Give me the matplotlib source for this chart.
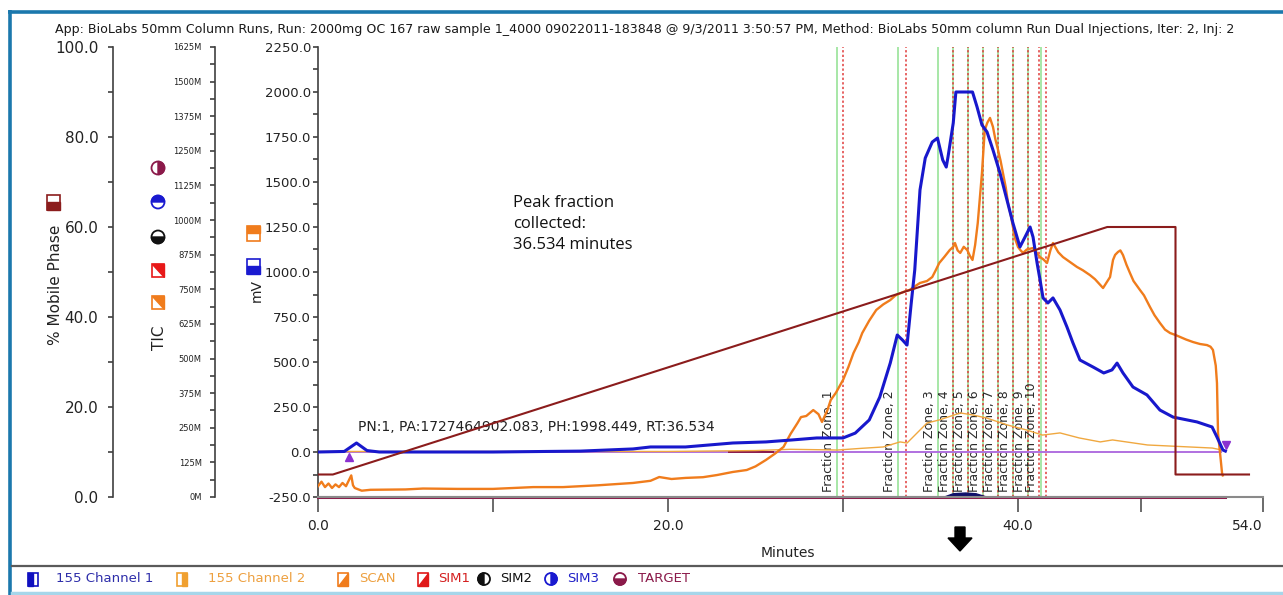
import numpy as np
import matplotlib.pyplot as plt
from matplotlib.patches import Rectangle, Polygon, Circle, Wedge
from matplotlib.ticker import MultipleLocator, FixedLocator, FuncFormatter

W, H = 1283, 595

# ---- data (minutes, mV) ----
ch1_t = [0, 1.5, 2.2, 2.8, 3.5, 10, 15, 18, 19, 21, 23.7, 25.6, 27.1, 28.5, 30.0, 30.7, 31.5,
         32.1, 32.7, 33.1, 33.4, 33.66, 33.9, 34.1, 34.4, 34.7, 35.1, 35.4, 35.7, 35.9, 36.0,
         36.3, 36.45, 37.4, 37.66, 37.94, 38.23, 38.57, 38.97, 39.37, 39.71, 40.11, 40.4,
         40.69, 40.86, 41.09, 41.26, 41.43, 41.71, 42.0, 42.4, 42.8, 43.14, 43.54, 44.29,
         44.9, 45.37, 45.66, 46.0, 46.57, 47.37, 48.11, 48.86, 50.23, 51.09, 51.37, 51.71, 51.85]
ch1_mv = [0, 3, 50, 8, 0, 0, 5, 17, 28, 28, 50, 56, 67, 78, 78, 105, 178,
          305, 494, 650, 622, 594, 828, 1011, 1456, 1633, 1722, 1744, 1622, 1583, 1639,
          1828, 2000, 2000, 1917, 1817, 1778, 1678, 1550, 1400, 1272, 1139, 1194,
          1250, 1194, 1050, 956, 856, 828, 856, 789, 694, 606, 511, 472,
          439, 456, 494, 439, 361, 317, 233, 194, 167, 139, 83, 11, 5]

ch2_t = [0, 0.2, 0.4, 0.6, 0.8, 1.0, 1.2, 1.4, 1.6, 1.8, 1.9, 2.0, 2.1, 2.5, 3.0, 5, 6, 8, 10,
         12.3, 14, 16, 18, 19.0, 19.5, 20.2, 21, 22, 22.8, 23.7, 24.5, 25.0, 25.6, 26.1, 26.6,
         27.0, 27.4, 27.6, 27.9, 28.3, 28.6, 28.8, 29.1, 29.3, 29.6, 30.0, 30.3, 30.6, 30.9,
         31.1, 31.5, 31.9, 32.3, 32.7, 33.0, 33.3, 33.6, 33.8, 34.1, 34.4, 34.8, 35.1, 35.3,
         35.5, 35.8, 36.1, 36.3, 36.4, 36.55, 36.7, 36.9, 37.1, 37.25, 37.4, 37.55, 37.7,
         37.94, 38.1, 38.25, 38.4, 38.57, 38.7, 38.86, 39.0, 39.14, 39.3, 39.43, 39.6, 39.71,
         39.85, 40.0, 40.15, 40.29, 40.5, 40.86, 41.05, 41.26, 41.45, 41.66, 41.85, 42.0,
         42.3, 42.57, 42.9, 43.37, 43.7, 44.11, 44.4, 44.86, 45.05, 45.26, 45.43, 45.55,
         45.71, 45.85, 46.0, 46.2, 46.4, 46.6, 46.97, 47.2, 47.54, 47.8, 48.11, 48.4, 48.69,
         49.0, 49.26, 49.6, 50.0, 50.4, 50.8, 51.0, 51.14, 51.3, 51.37, 51.43, 51.66, 51.7]
ch2_mv = [-190, -165, -195, -175, -200, -180, -195, -172, -190, -150, -130, -185, -200, -215,
          -210, -208, -203, -205, -205, -195, -195, -185, -172, -160, -139, -150, -144, -140,
          -128, -111, -100, -80, -44, -10, 28, 100, 161, 194, 200, 233, 210, 167, 230, 289,
          330, 400, 470, 550, 610, 661, 730, 789, 820, 844, 870, 883, 895, 900, 920, 939, 950,
          972, 1010, 1050, 1085, 1122, 1140, 1161, 1120, 1106, 1140, 1122, 1090, 1067, 1150,
          1272, 1550, 1789, 1830, 1856, 1806, 1740, 1678, 1620, 1550, 1470, 1383, 1310, 1250,
          1180, 1139, 1120, 1106, 1125, 1133, 1110, 1083, 1070, 1050, 1120, 1161, 1110, 1083,
          1060, 1028, 1010, 983, 960, 911, 940, 972, 1067, 1095, 1111, 1120, 1094, 1040, 994,
          950, 900, 870, 806, 760, 717, 680, 661, 650, 639, 625, 611, 600, 594, 585, 567, 480,
          383, 106, -117, -130]

scan_t = [0, 20, 25, 27, 29.7, 31, 32.3, 33.26, 33.66, 34.8, 35.5, 36.7, 37.4, 38.2, 39.4,
          40.5, 41.4, 42.4, 43.5, 44.7, 45.4, 47.4, 51.1, 51.7]
scan_mv = [3, 3, 8, 15, 11, 20, 28, 56, 50, 161, 178, 217, 206, 189, 150, 122, 94, 106, 78,
           56, 67, 39, 22, 10]

phase_t = [0, 0.85, 45.1, 49.0, 49.0, 53.2]
phase_pct = [5, 5, 60, 60, 5, 5]

zone_start = [29.66, 33.14, 35.43, 36.29, 37.14, 38.0, 38.86, 39.71, 40.57, 41.3]
zone_end = [30.0, 33.6, 36.29, 37.14, 38.0, 38.86, 39.71, 40.57, 41.2, 41.6]
zone_names = ['Fraction Zone, %d' % i for i in range(1, 11)]

peak_text = 'PN:1, PA:1727464902.083, PH:1998.449, RT:36.534'
title = ('App: BioLabs 50mm Column Runs, Run: 2000mg OC 167 raw sample 1_4000 '
         '09022011-183848 @ 9/3/2011 3:50:57 PM, Method: BioLabs 50mm column Run Dual '
         'Injections, Iter: 2, Inj: 2')

legend_names = ['155 Channel 1', '155 Channel 2', 'SCAN', 'SIM1', 'SIM2', 'SIM3', 'TARGET']
legend_colors = ['#2e2eaa', '#eda040', '#eda040', '#d42020', '#111111', '#2020c8', '#8b1a4a']

BLUE = '#1818cc'
ORANGE = '#f07c1c'
THIN_OR = '#f0a840'
BROWN = '#8b1c1c'
MAROON = '#8b1a4a'
PURPLE = '#b070e0'


def px(x0, y0, w, h):
    return [x0 / W, (H - y0 - h) / H, w / W, h / H]


fig = plt.figure(figsize=(W / 100, H / 100), dpi=100)
rect = px(318, 47, 945, 450)

# ---- main mV axes ----
ax = fig.add_axes(rect)
ax.patch.set_alpha(0)
ax.set_xlim(0, 54)
ax.set_ylim(-250, 2250)
for s in ['top', 'right']:
    ax.spines[s].set_visible(False)
ax.spines['left'].set_color('#404040')
ax.spines['left'].set_linewidth(1.2)
ax.spines['bottom'].set_color('#8a8a8a')
ax.spines['bottom'].set_linewidth(1.5)
ax.yaxis.set_major_locator(MultipleLocator(250))
ax.yaxis.set_minor_locator(MultipleLocator(125))
ax.yaxis.set_major_formatter(FuncFormatter(lambda v, p: '%.1f' % v))
ax.tick_params(axis='y', which='both', direction='out', length=3.6, width=1.2,
               color='#404040', labelsize=9.5, pad=1.5, labelcolor='#222222')
ax.xaxis.set_major_locator(FixedLocator([0, 20, 40, 54]))
ax.xaxis.set_minor_locator(FixedLocator([10, 30, 47]))
ax.xaxis.set_major_formatter(FuncFormatter(lambda v, p: '%.1f' % v))
ax.tick_params(axis='x', which='both', direction='out', length=11, width=1.4,
               color='#6a6a6a', labelsize=10, pad=5, labelcolor='#222222')
ax.xaxis.get_major_ticks()[-1].label1.set_horizontalalignment('right')

for x in zone_start:
    ax.axvline(x, color='#8fe08f', lw=1.1, zorder=1)
for x in zone_end:
    ax.axvline(x, color='#e03a3a', lw=1.1, ls=(0, (1.5, 1.5)), zorder=1.1)
for x, name in zip(zone_start, zone_names):
    ax.text(x - 0.5, -224, name, rotation=90, ha='center', va='bottom', fontsize=9,
            color='#2a2a2a', zorder=2)

ax.plot([0, 51.6], [0, 0], color=PURPLE, lw=1.4, zorder=2)
ax.plot([23.5, 26.0], [0, 0], color=MAROON, lw=1.4, zorder=2.1)
ax.plot([0, 51.8], [-250, -250], color=MAROON, lw=2.2, zorder=2, clip_on=False)
ax.fill([35.8, 36.3, 37.0, 37.6, 38.2], [-250, -232, -228, -232, -250], color='#10106a',
        zorder=2.2, clip_on=False)

ax.plot(scan_t, scan_mv, color=THIN_OR, lw=1.0, zorder=3)
ax.plot(ch2_t, ch2_mv, color=ORANGE, lw=1.7, zorder=4)
ax.plot(ch1_t, ch1_mv, color=BLUE, lw=2.2, zorder=5)
ax.plot([1.77], [-28], marker='^', color='#8a30d0', ms=6, zorder=6)
ax.plot([51.9], [38], marker='v', color='#8a30d0', ms=6, zorder=6)
ax.text(2.3, 139, peak_text, fontsize=10, va='center', ha='left', color='#222222')

# ---- TIC axis ----
ax_tic = fig.add_axes(rect)
ax_tic.patch.set_visible(False)
ax_tic.set_xlim(0, 54)
ax_tic.set_ylim(0, 1625)
for s in ['top', 'right', 'bottom']:
    ax_tic.spines[s].set_visible(False)
ax_tic.spines['left'].set_position(('axes', -103 / 945))
ax_tic.spines['left'].set_color('#404040')
ax_tic.spines['left'].set_linewidth(1.2)
ax_tic.xaxis.set_visible(False)
ax_tic.yaxis.set_major_locator(MultipleLocator(125))
ax_tic.yaxis.set_minor_locator(MultipleLocator(62.5))
ax_tic.yaxis.set_major_formatter(FuncFormatter(lambda v, p: '%dM' % int(round(v))))
ax_tic.tick_params(axis='y', which='both', direction='out', length=3.6, width=1.2,
                   color='#404040', labelsize=6, pad=6, labelcolor='#222222')

# ---- % mobile phase axis ----
ax_pct = fig.add_axes(rect)
ax_pct.patch.set_visible(False)
ax_pct.set_xlim(0, 54)
ax_pct.set_ylim(0, 100)
for s in ['top', 'right', 'bottom']:
    ax_pct.spines[s].set_visible(False)
ax_pct.spines['left'].set_position(('axes', -205 / 945))
ax_pct.spines['left'].set_color('#404040')
ax_pct.spines['left'].set_linewidth(1.2)
ax_pct.xaxis.set_visible(False)
ax_pct.yaxis.set_major_locator(MultipleLocator(20))
ax_pct.yaxis.set_minor_locator(MultipleLocator(10))
ax_pct.yaxis.set_major_formatter(FuncFormatter(lambda v, p: '%.1f' % v))
ax_pct.tick_params(axis='y', which='both', direction='out', length=3.6, width=1.2,
                   color='#404040', labelsize=11, pad=7, labelcolor='#222222')
ax_pct.plot(phase_t, phase_pct, color=BROWN, lw=1.5, zorder=5)

# ---- overlay in pixel coordinates: frame, icons, texts ----
ov = fig.add_axes([0, 0, 1, 1])
ov.set_xlim(0, W)
ov.set_ylim(H, 0)
ov.axis('off')
ov.patch.set_visible(False)

ov.plot([8, W], [11.5, 11.5], color='#1b78ad', lw=2.6, solid_capstyle='butt')
ov.plot([10, 10], [10, H], color='#1b78ad', lw=2.6, solid_capstyle='butt')
ov.plot([12, W], [566, 566], color='#5a5a5a', lw=1.6)
ov.plot([12, W], [593, 593], color='#a6d6ea', lw=2.5)

ov.text(645, 29, title, ha='center', va='center', fontsize=9.1, color='#1a1a1a')
ov.text(55, 285, '% Mobile Phase', rotation=90, ha='center', va='center', fontsize=11,
        color='#222222')
ov.text(160, 338, 'TIC', rotation=90, ha='center', va='center', fontsize=11, color='#222222')
ov.text(257, 291, 'mV', rotation=90, ha='center', va='center', fontsize=10, color='#222222')
ov.text(788, 553, 'Minutes', ha='center', va='center', fontsize=10, color='#222222')
ov.text(513, 224, 'Peak fraction\ncollected:\n36.534 minutes', ha='left', va='center',
        fontsize=12, family='Open Sans', linespacing=1.45, color='#111111')

ov.add_patch(Polygon([[955, 527], [965, 527], [965, 538], [972, 538], [960, 551],
                      [948, 538], [955, 538]], closed=True, fc='black', ec='black'))


def sq_icon(cx, cy, w, h, color, fill):
    x0, y0 = cx - w / 2, cy - h / 2
    ov.add_patch(Rectangle((x0, y0), w, h, fc='white', ec=color, lw=1.2, zorder=5))
    if fill == 'left':
        pts = [[x0, y0], [x0 + w / 2, y0], [x0 + w / 2, y0 + h], [x0, y0 + h]]
    elif fill == 'right':
        pts = [[x0 + w / 2, y0], [x0 + w, y0], [x0 + w, y0 + h], [x0 + w / 2, y0 + h]]
    elif fill == 'top':
        pts = [[x0, y0], [x0 + w, y0], [x0 + w, y0 + h / 2], [x0, y0 + h / 2]]
    elif fill == 'bottom':
        pts = [[x0, y0 + h / 2], [x0 + w, y0 + h / 2], [x0 + w, y0 + h], [x0, y0 + h]]
    elif fill == 'diag_ur':
        pts = [[x0, y0], [x0 + w, y0], [x0 + w, y0 + h]]
    else:
        pts = [[x0 + w, y0], [x0 + w, y0 + h], [x0, y0 + h]]
    ov.add_patch(Polygon(pts, closed=True, fc=color, ec=color, lw=1.0, zorder=6))


def circ_icon(cx, cy, r, color, t1, t2):
    ov.add_patch(Circle((cx, cy), r, fc='white', ec=color, lw=1.3, zorder=5))
    ov.add_patch(Wedge((cx, cy), r, t1, t2, fc=color, ec=color, lw=1.0, zorder=6))


# icons next to the y axes
sq_icon(53, 202, 13, 15, BROWN, 'bottom')
circ_icon(158, 168, 6.5, MAROON, -90, 90)
circ_icon(158, 202, 6.5, '#1a1ad0', 180, 360)
circ_icon(158, 237, 6.5, '#111111', 0, 180)
sq_icon(158, 270, 12, 13, '#e81818', 'diag_ur')
sq_icon(158, 302, 12, 13, ORANGE, 'diag_ur')
sq_icon(253, 233, 13, 15, ORANGE, 'top')
sq_icon(253, 266, 13, 15, '#1a1ad0', 'bottom')

# legend bar
icon_x = [33, 182, 343, 423, 484, 551, 620]
text_x = [56, 208, 359, 438, 500, 567, 638]
sq_icon(icon_x[0], 579, 10, 13, '#1010c0', 'left')
sq_icon(icon_x[1], 579, 10, 13, '#f0a030', 'right')
sq_icon(icon_x[2], 579, 10, 13, '#f07c1c', 'diag_lr')
sq_icon(icon_x[3], 579, 10, 13, '#e01818', 'diag_lr')
circ_icon(icon_x[4], 579, 6, '#111111', 90, 270)
circ_icon(icon_x[5], 579, 6, '#1a1ad0', -90, 90)
circ_icon(icon_x[6], 579, 6, MAROON, 0, 180)
for x, name, c in zip(text_x, legend_names, legend_colors):
    ov.text(x, 579, name, ha='left', va='center', fontsize=9.5, color=c)

fig.savefig('out.png', dpi=100)
